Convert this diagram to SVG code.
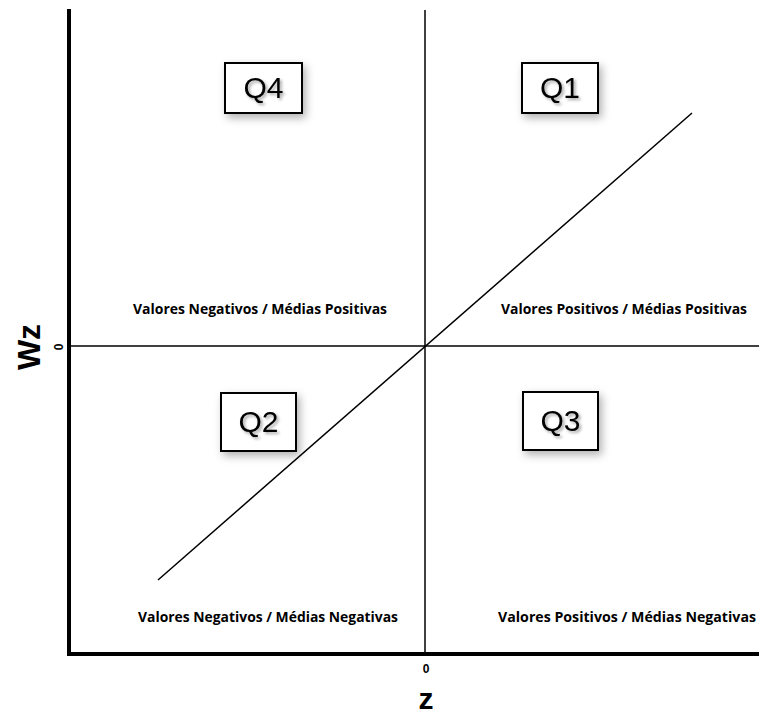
<svg xmlns="http://www.w3.org/2000/svg" width="759" height="714" viewBox="0 0 759 714">
<defs>
<filter id="sh" x="-30%" y="-30%" width="160%" height="160%">
<feDropShadow dx="3" dy="4" stdDeviation="4" flood-color="#000" flood-opacity="0.3"/>
</filter>
<filter id="tsh" x="-30%" y="-30%" width="160%" height="160%">
<feDropShadow dx="2" dy="2" stdDeviation="1.5" flood-color="#000" flood-opacity="0.35"/>
</filter>
</defs>
<style>
.axis{stroke:#000;stroke-width:4;fill:none}
.thin{stroke:#000;stroke-width:1.5;fill:none}
.box{fill:#fff;stroke:#000;stroke-width:2;filter:url(#sh)}
.q{font-family:"Liberation Sans",Arial,sans-serif;font-size:30px;fill:#000;text-anchor:middle;filter:url(#tsh)}
.lab{font-family:"Open Sans","Liberation Sans",sans-serif;font-weight:bold;font-size:14px;fill:#000}
.ax{font-family:"Liberation Sans",Arial,sans-serif;font-weight:bold;fill:#000;text-anchor:middle}
</style>
<rect width="759" height="714" fill="#fff"/>
<g id="connectors">
<line class="thin" x1="425" y1="10" x2="425" y2="654"/>
<line class="thin" x1="69" y1="346" x2="759" y2="346"/>
<line class="thin" x1="158" y1="580" x2="692" y2="113"/>
<line class="axis" x1="69" y1="9" x2="69" y2="656"/>
<line class="axis" x1="67" y1="654" x2="759" y2="654"/>
</g>
<g id="Q4"><rect class="box" x="225" y="63" width="77" height="50"/><text class="q" x="263.5" y="98">Q4</text></g>
<g id="Q1"><rect class="box" x="522" y="63" width="76" height="50"/><text class="q" x="560" y="98">Q1</text></g>
<g id="Q2"><rect class="box" x="221" y="393" width="75" height="58"/><text class="q" x="258.5" y="432">Q2</text></g>
<g id="Q3"><rect class="box" x="523" y="392" width="75" height="58"/><text class="q" x="560.5" y="431">Q3</text></g>
<g id="labels">
<text class="lab" x="133" y="314" textLength="254" lengthAdjust="spacingAndGlyphs">Valores Negativos / Médias Positivas</text>
<text class="lab" x="501" y="314" textLength="246" lengthAdjust="spacingAndGlyphs">Valores Positivos / Médias Positivas</text>
<text class="lab" x="138" y="622" textLength="260" lengthAdjust="spacingAndGlyphs">Valores Negativos / Médias Negativas</text>
<text class="lab" x="498" y="622" textLength="258" lengthAdjust="spacingAndGlyphs">Valores Positivos / Médias Negativas</text>
</g>
<g id="axis-labels">
<text class="ax" font-size="32" transform="translate(40,347) rotate(-90)">Wz</text>
<text class="ax" font-size="12" transform="translate(63,347) rotate(-90)">0</text>
<text class="ax" font-size="12" x="426" y="673">0</text>
<text class="ax" font-size="30" x="426" y="709">z</text>
</g>
</svg>
